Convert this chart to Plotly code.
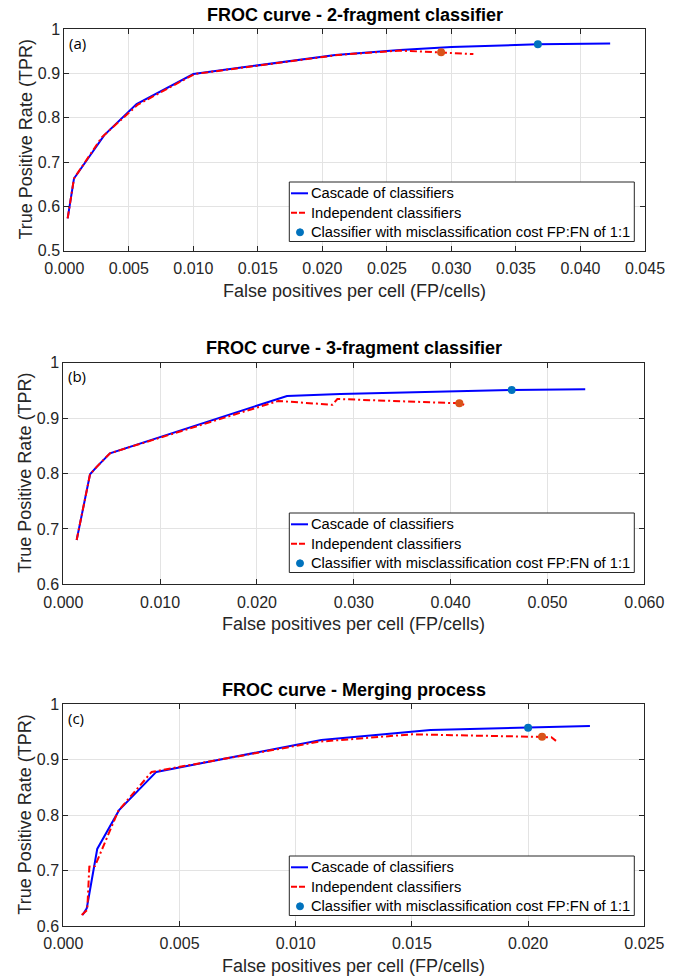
import plotly.graph_objects as go

# ---------------- data ----------------
# Panel (a) 2-fragment classifier
casc_a_x = [0.00026, 0.00075, 0.0031, 0.0056, 0.0100, 0.0210, 0.0260, 0.0300, 0.0367, 0.0423]
casc_a_y = [0.573, 0.663, 0.761, 0.831, 0.899, 0.942, 0.953, 0.960, 0.966, 0.968]
ind_a_x = [0.00026, 0.00075, 0.0029, 0.0057, 0.0101, 0.0212, 0.0260, 0.0292, 0.0317]
ind_a_y = [0.573, 0.663, 0.756, 0.830, 0.899, 0.942, 0.952, 0.948, 0.944]
opt_casc_a = (0.0367, 0.966)
opt_ind_a = (0.0292, 0.948)

# Panel (b) 3-fragment classifier
casc_b_x = [0.00138, 0.00276, 0.00345, 0.00482, 0.0231, 0.0286, 0.0463, 0.0539]
casc_b_y = [0.680, 0.7985, 0.812, 0.8365, 0.940, 0.9435, 0.9507, 0.952]
ind_b_x = [0.00138, 0.00276, 0.00345, 0.00482, 0.0222, 0.0278, 0.0283, 0.0409, 0.0414]
ind_b_y = [0.680, 0.7985, 0.812, 0.8365, 0.931, 0.924, 0.9345, 0.9267, 0.924]
opt_casc_b = (0.0463, 0.9507)
opt_ind_b = (0.0409, 0.9267)

# Panel (c) merging process
casc_c_x = [0.00083, 0.00101, 0.00146, 0.0024, 0.0040, 0.0111, 0.0158, 0.0200, 0.02266]
casc_c_y = [0.620, 0.632, 0.739, 0.809, 0.878, 0.9356, 0.9536, 0.9578, 0.9608]
ind_c_x = [0.00079, 0.00103, 0.00112, 0.00136, 0.00237, 0.0038, 0.0110, 0.0150, 0.0201, 0.0210, 0.0212]
ind_c_y = [0.620, 0.629, 0.707, 0.708, 0.808, 0.878, 0.9325, 0.9458, 0.9415, 0.9405, 0.934]
opt_casc_c = (0.0200, 0.9578)
opt_ind_c = (0.0206, 0.9415)

# ticks
xt_a = [0.000, 0.005, 0.010, 0.015, 0.020, 0.025, 0.030, 0.035, 0.040, 0.045]
xt_a_text = ["0.000", "0.005", "0.010", "0.015", "0.020", "0.025", "0.030", "0.035", "0.040", "0.045"]
yt_a = [0.5, 0.6, 0.7, 0.8, 0.9, 1.0]
yt_a_text = ["0.5", "0.6", "0.7", "0.8", "0.9", "1"]
xt_b = [0.000, 0.010, 0.020, 0.030, 0.040, 0.050, 0.060]
xt_b_text = ["0.000", "0.010", "0.020", "0.030", "0.040", "0.050", "0.060"]
yt_b = [0.6, 0.7, 0.8, 0.9, 1.0]
yt_b_text = ["0.6", "0.7", "0.8", "0.9", "1"]
xt_c = [0.000, 0.005, 0.010, 0.015, 0.020, 0.025]
xt_c_text = ["0.000", "0.005", "0.010", "0.015", "0.020", "0.025"]
yt_c = [0.6, 0.7, 0.8, 0.9, 1.0]
yt_c_text = ["0.6", "0.7", "0.8", "0.9", "1"]

titles = ["FROC curve - 2-fragment classifier",
          "FROC curve - 3-fragment classifier",
          "FROC curve - Merging process"]
panel_labels = ["(a)", "(b)", "(c)"]
leg_names = ["Cascade of classifiers", "Independent classifiers",
             "Classifier with misclassification cost FP:FN of 1:1"]
x_title = "False positives per cell (FP/cells)"
y_title = "True Positive Rate (TPR)"

# ---------------- layout geometry (pixels) ----------------
W, H = 678, 979
panels = [
    dict(x0=64.3, x1=645.0, y0=29.3, y1=250.7, xr=[0, 0.045], yr=[0.5, 1.0],
         xt=xt_a, xtt=xt_a_text, yt=yt_a, ytt=yt_a_text,
         cx=casc_a_x, cy=casc_a_y, ix=ind_a_x, iy=ind_a_y, oc=opt_casc_a, oi=opt_ind_a,
         leg_top=182),
    dict(x0=63.3, x1=644.3, y0=362.7, y1=584.3, xr=[0, 0.060], yr=[0.6, 1.0],
         xt=xt_b, xtt=xt_b_text, yt=yt_b, ytt=yt_b_text,
         cx=casc_b_x, cy=casc_b_y, ix=ind_b_x, iy=ind_b_y, oc=opt_casc_b, oi=opt_ind_b,
         leg_top=513),
    dict(x0=63.3, x1=644.3, y0=704.3, y1=926.0, xr=[0, 0.025], yr=[0.6, 1.0],
         xt=xt_c, xtt=xt_c_text, yt=yt_c, ytt=yt_c_text,
         cx=casc_c_x, cy=casc_c_y, ix=ind_c_x, iy=ind_c_y, oc=opt_casc_c, oi=opt_ind_c,
         leg_top=856),
]

FONT = "Liberation Sans, Arial, sans-serif"
AXC = "#262626"
GRID = "#e3e3e3"
BLUE, RED = "#0000FF", "#FF0000"
MBLUE, MORANGE = "#0072BD", "#D95319"
DASHDOT = "7px,3px,2px,3px"


def px(xp):
    return xp / W


def py(yp):
    return 1 - yp / H


fig = go.Figure()
layout = dict(width=W, height=H, margin=dict(l=0, r=0, t=0, b=0, autoexpand=False),
              paper_bgcolor="white", plot_bgcolor="white",
              font=dict(family=FONT, size=16, color=AXC), showlegend=False)
annotations = []
shapes = []

for i, p in enumerate(panels):
    n = "" if i == 0 else str(i + 1)
    xa, ya = "x" + n, "y" + n
    fig.add_trace(go.Scatter(x=p["cx"], y=p["cy"], mode="lines", name=leg_names[0],
                             line=dict(color=BLUE, width=2), xaxis=xa, yaxis=ya))
    fig.add_trace(go.Scatter(x=p["ix"], y=p["iy"], mode="lines", name=leg_names[1],
                             line=dict(color=RED, width=2, dash=DASHDOT),
                             xaxis=xa, yaxis=ya))
    fig.add_trace(go.Scatter(x=[p["oc"][0]], y=[p["oc"][1]], mode="markers", name=leg_names[2],
                             marker=dict(color=MBLUE, size=8), xaxis=xa, yaxis=ya))
    fig.add_trace(go.Scatter(x=[p["oi"][0]], y=[p["oi"][1]], mode="markers", name=leg_names[2],
                             marker=dict(color=MORANGE, size=8), xaxis=xa, yaxis=ya))

    xd = [p["x0"] / W, p["x1"] / W]
    yd = [1 - p["y1"] / H, 1 - p["y0"] / H]
    axcommon = dict(showline=True, linecolor=AXC, linewidth=1, mirror="ticks",
                    ticks="inside", ticklen=5, tickcolor=AXC, tickwidth=1,
                    showgrid=True, gridcolor=GRID, gridwidth=1, zeroline=False,
                    automargin=False,
                    tickfont=dict(family=FONT, size=16, color=AXC), fixedrange=True)
    layout["xaxis" + n] = dict(domain=xd, range=p["xr"], anchor=ya,
                               tickmode="array", tickvals=p["xt"], ticktext=p["xtt"],
                               ticklabelstandoff=3, **axcommon)
    layout["yaxis" + n] = dict(domain=yd, range=p["yr"], anchor=xa,
                               tickmode="array", tickvals=p["yt"], ticktext=p["ytt"],
                               **axcommon)

    # legend box (drawn as a boxed key, matching the reference)
    lt = p["leg_top"]
    shapes.append(dict(type="rect", xref="paper", yref="paper",
                       x0=px(289.3), x1=px(634.3), y0=py(lt + 59.5), y1=py(lt),
                       line=dict(color=AXC, width=1), fillcolor="white", layer="above"))
    rows = [lt + 11.3, lt + 30.8, lt + 50.3]
    shapes.append(dict(type="line", xref="paper", yref="paper",
                       x0=px(291), x1=px(308), y0=py(rows[0]), y1=py(rows[0]),
                       line=dict(color=BLUE, width=2), layer="above"))
    shapes.append(dict(type="line", xref="paper", yref="paper",
                       x0=px(291), x1=px(307), y0=py(rows[1]), y1=py(rows[1]),
                       line=dict(color=RED, width=2, dash="6px,2px,6px,2px"), layer="above"))
    shapes.append(dict(type="circle", xref="paper", yref="paper",
                       x0=px(296.5), x1=px(303.5), y0=py(rows[2] + 3.5), y1=py(rows[2] - 3.5),
                       line=dict(color=MBLUE, width=1), fillcolor=MBLUE, layer="above"))
    for r, name in zip(rows, leg_names):
        annotations.append(dict(text=name, x=px(309), y=py(r), xref="paper", yref="paper",
                                showarrow=False, xanchor="left", yanchor="middle",
                                font=dict(family=FONT, size=14.7, color="#000000")))

    cx = (p["x0"] + p["x1"]) / 2
    annotations.append(dict(text="<b>%s</b>" % titles[i], x=px(cx), y=py(p["y0"] - 14.5),
                            xref="paper", yref="paper", showarrow=False,
                            xanchor="center", yanchor="middle",
                            font=dict(family=FONT, size=18, color="#000000")))
    annotations.append(dict(text=x_title, x=px(cx), y=py(p["y1"] + 40),
                            xref="paper", yref="paper", showarrow=False,
                            xanchor="center", yanchor="middle",
                            font=dict(family=FONT, size=18, color=AXC)))
    annotations.append(dict(text=y_title, x=px(25.5), y=py((p["y0"] + p["y1"]) / 2),
                            xref="paper", yref="paper", showarrow=False, textangle=-90,
                            xanchor="center", yanchor="middle",
                            font=dict(family=FONT, size=18, color=AXC)))
    annotations.append(dict(text=panel_labels[i], x=px(p["x0"] + 3), y=py(p["y0"] + 13.5),
                            xref="paper", yref="paper", showarrow=False,
                            xanchor="left", yanchor="middle",
                            font=dict(family="Open Sans, sans-serif", size=15, color="#000000")))

layout["annotations"] = annotations
layout["shapes"] = shapes
fig.update_layout(**layout)
fig.write_html("out.html")
